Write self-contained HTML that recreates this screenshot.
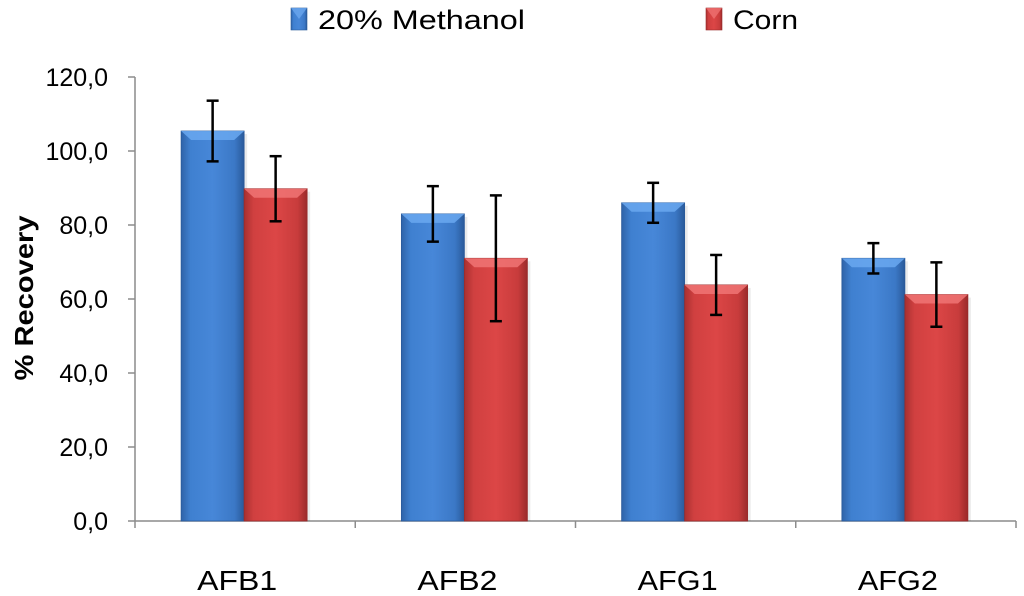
<!DOCTYPE html>
<html><head><meta charset="utf-8"><style>
html,body{margin:0;padding:0;background:#fff;}
svg{display:block;font-family:"Liberation Sans",sans-serif;}
</style></head><body>
<svg id="chart" width="1024" height="596" viewBox="0 0 1024 596">
<defs>
<linearGradient id="gb" x1="0" x2="1" y1="0" y2="0"><stop offset="0" stop-color="#2f63a8"/><stop offset="0.15" stop-color="#3f80d0"/><stop offset="0.5" stop-color="#4787d8"/><stop offset="0.85" stop-color="#3b78c6"/><stop offset="1" stop-color="#2a5a9a"/></linearGradient>
<linearGradient id="gr" x1="0" x2="1" y1="0" y2="0"><stop offset="0" stop-color="#a83030"/><stop offset="0.15" stop-color="#d04040"/><stop offset="0.5" stop-color="#dc4646"/><stop offset="0.85" stop-color="#c83c3c"/><stop offset="1" stop-color="#9a2a2a"/></linearGradient>
</defs>
<g id="legend">
<g>
<rect x="291" y="8" width="16" height="22" fill="url(#gb)" stroke="#2a5a9a" stroke-width="0.6"/>
<polygon points="291,8 307,8 299,19" fill="#6aa6ee" opacity="0.8"/>
<text x="318" y="29" font-size="27" fill="#000" textLength="207" lengthAdjust="spacingAndGlyphs">20% Methanol</text>
</g>
<g>
<rect x="706" y="8" width="16" height="22" fill="url(#gr)" stroke="#9a2a2a" stroke-width="0.6"/>
<polygon points="706,8 722,8 714,19" fill="#ee7070" opacity="0.8"/>
<text x="733" y="29" font-size="27" fill="#000" textLength="65" lengthAdjust="spacingAndGlyphs">Corn</text>
</g>
</g>
<text transform="translate(33,298) rotate(-90)" text-anchor="middle" font-size="26" font-weight="bold" textLength="165" lengthAdjust="spacingAndGlyphs">% Recovery</text>
<g id="axes"></g>
<g id="bars"></g>
</svg>
<script>
const categories = ["AFB1","AFB2","AFG1","AFG2"];
const methanolValues = [105.4, 83.0, 86.0, 71.0];
const methanolErrors = [8.2, 7.5, 5.4, 4.1];
const cornValues = [89.8, 71.0, 63.8, 61.2];
const cornErrors = [8.8, 17.0, 8.1, 8.7];
const yTicks = [0,20,40,60,80,100,120];
const yTickLabels = ["0,0","20,0","40,0","60,0","80,0","100,0","120,0"];

const NS="http://www.w3.org/2000/svg";
const X0=135, X1=1016, Y0=521, Y120=77;
const yScale=v=>Y0-(v/120)*(Y0-Y120);
const bandW=(X1-X0)/categories.length;
const xCenter=i=>X0+bandW*(i+0.5);
const barW=63;
function mk(tag,attrs,parent){const e=document.createElementNS(NS,tag);for(const k in attrs)e.setAttribute(k,attrs[k]);parent.appendChild(e);return e;}
const axes=document.getElementById('axes');
const bars=document.getElementById('bars');

const yAxis=mk('line',{x1:X0,x2:X0,y1:Y120,y2:Y0,stroke:'#8c8c8c','stroke-width':1.5},axes);


const xAxis=mk('line',{x1:X0,x2:X1,y1:Y0,y2:Y0,stroke:'#8c8c8c','stroke-width':1.5},axes);


yTicks.forEach((t,i)=>{
  const y=yScale(t);
  mk('line',{x1:X0-7,x2:X0,y1:y,y2:y,stroke:'#8c8c8c','stroke-width':1.5},axes);
  const tx=mk('text',{x:X0-27,y:y+9,'text-anchor':'end','font-size':25,fill:'#000'},axes);
  tx.textContent=yTickLabels[i];
  
  
});
for(let i=0;i<=categories.length;i++){
  const x=X0+bandW*i;
  mk('line',{x1:x,x2:x,y1:Y0,y2:Y0+7,stroke:'#8c8c8c','stroke-width':1.5},axes);
}
categories.forEach((c,i)=>{
  const tx=mk('text',{x:xCenter(i)-8,y:590,'text-anchor':'middle','font-size':28,fill:'#000',textLength:80,lengthAdjust:'spacingAndGlyphs'},axes);
  tx.textContent=c;
  
  
});
function drawBar(x,v,err,fill,light,edge,name){
  const g=mk('g',{},bars);
  
  
  const top=yScale(v);
  mk('rect',{x:x+3,y:top+3,width:barW,height:Y0-top-3,fill:'#000',opacity:0.08},g);
  mk('rect',{x:x,y:top,width:barW,height:Y0-top,fill:fill,stroke:edge,'stroke-width':0.8},g);
  mk('polygon',{points:`${x},${top} ${x+barW},${top} ${x+barW-10},${top+9} ${x+10},${top+9}`,fill:light,opacity:0.85},g);
  const cx=x+barW/2, ya=yScale(v+err), yb=yScale(v-err);
  mk('line',{x1:cx,x2:cx,y1:ya,y2:yb,stroke:'#000','stroke-width':2.5},g);
  mk('line',{x1:cx-6,x2:cx+6,y1:ya,y2:ya,stroke:'#000','stroke-width':2.5},g);
  mk('line',{x1:cx-6,x2:cx+6,y1:yb,y2:yb,stroke:'#000','stroke-width':2.5},g);
}
categories.forEach((c,i)=>{
  const cx=xCenter(i)-1;
  drawBar(cx-barW,methanolValues[i],methanolErrors[i],'url(#gb)','#6aa8f0','#2a5a9a','bar-methanol-'+c.toLowerCase());
  drawBar(cx,cornValues[i],cornErrors[i],'url(#gr)','#f07474','#9a2a2a','bar-corn-'+c.toLowerCase());
});
</script>
</body></html>
